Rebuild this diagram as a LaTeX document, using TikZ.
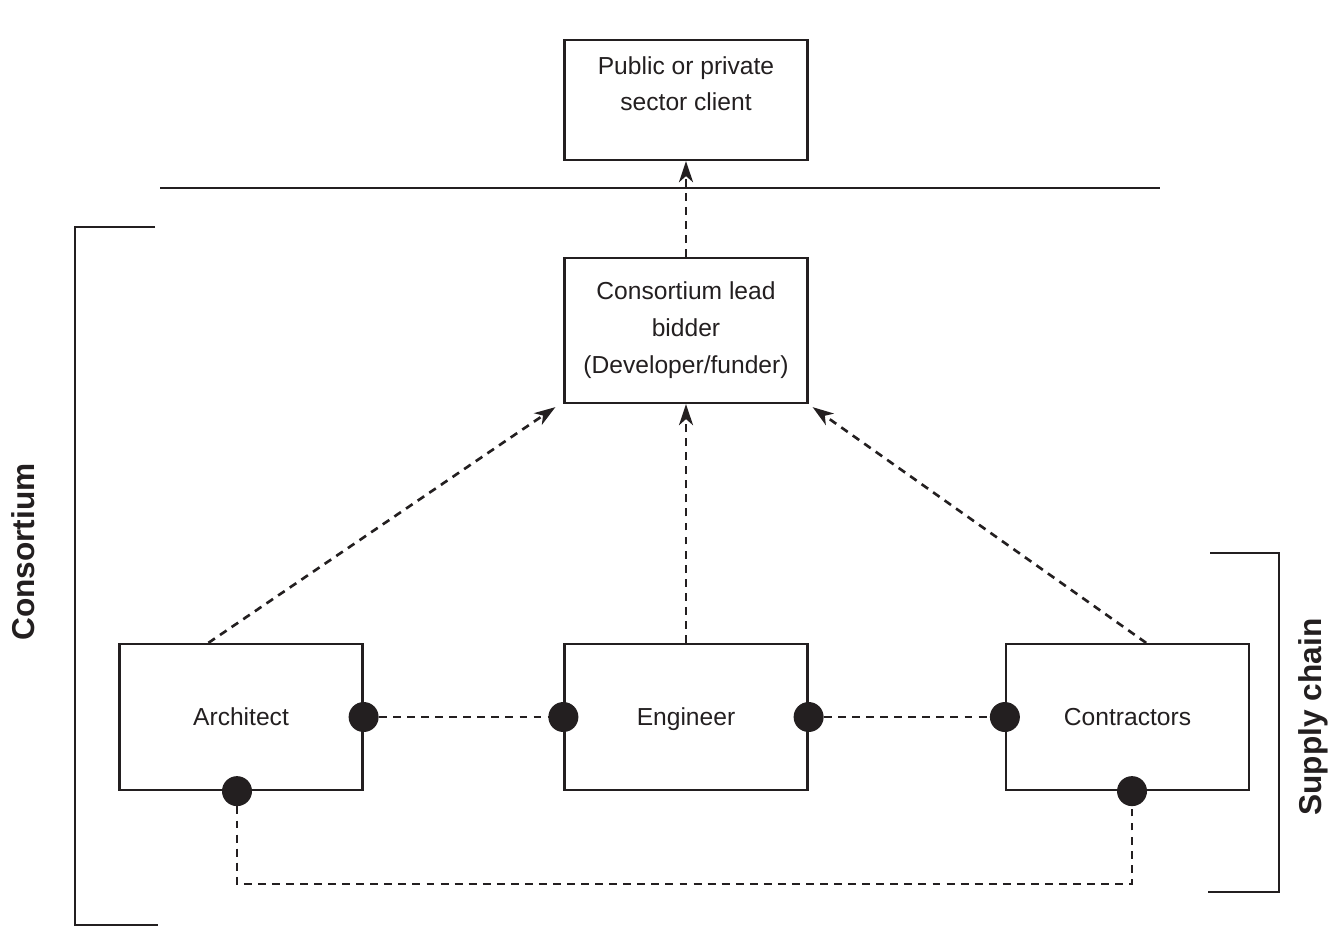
\documentclass[tikz,border=0pt]{standalone}
\usepackage{fontspec}
\setmainfont{Liberation Sans}
\usepackage{xcolor}
\usepackage{tikz}
\usetikzlibrary{arrows.meta,positioning}
\definecolor{ink}{HTML}{231F20}

\begin{document}
\begin{tikzpicture}[x=0.02cm,y=-0.02cm,
    box/.style={draw=ink, line width=1.3pt, minimum width=4.86cm, minimum height=2.92cm,
      align=center, text=ink, font=\fontsize{14}{21}\selectfont},
    role/.style={box, text height=10pt, text depth=0pt},
    txt/.style={inner sep=0pt, align=center, text=ink, font=\fontsize{14}{21}\selectfont},
    side/.style={text=ink, rotate=90, font=\fontsize{18}{22}\selectfont\bfseries},
    dot/.style={circle, fill=ink, inner sep=0pt, minimum size=0.6cm},
    link/.style={draw=ink, line width=1.5pt, dash pattern=on 4.5pt off 3.5pt},
    arr/.style={link, -{Stealth[length=12pt,width=8pt,inset=3.5pt]}},
    rule/.style={draw=ink, line width=1.3pt}]
  \useasboundingbox (0,0) rectangle (1341,927);

  \node[box, minimum height=2.4cm] (client) at (686,100) {};
  \node[txt, anchor=north] (clienttxt) at ([yshift=-0.34cm]client.north) {Public or private\\sector client};
  \node[box, minimum height=2.9cm] (lead) at (686,330.5) {Consortium lead\\bidder\\(Developer/funder)};
  \node[role] (architect) at (241,717) {Architect};
  \node[role] (engineer) at (686,717) {Engineer};
  \node[role] (contractors) at (1127.5,717) {Contractors};

  \draw[rule] (160,188) -- (1160,188);
  \draw[rule] (155,227) -- (75,227) -- (75,925) -- (158,925);
  \draw[rule] (1210,553) -- (1279,553) -- (1279,892) -- (1208,892);
  \node[side] (consortium) at (23,552) {Consortium};
  \node[side] (supply) at (1313,717) {Supply chain};

  \draw[arr] (lead) -- (client);
  \draw[arr] ([xshift=1.8cm]architect.north west) -- ([shift={(-8,3)}]lead.south west);
  \draw[arr] (engineer) -- (lead);
  \draw[arr] ([xshift=-2.08cm]contractors.north east) -- ([shift={(4,3)}]lead.south east);

  \node[dot] (ae) at (architect.east) {};
  \node[dot] (ew) at (engineer.west) {};
  \node[dot] (ee) at (engineer.east) {};
  \node[dot] (cw) at (contractors.west) {};
  \node[dot] (as) at ([xshift=-0.08cm]architect.south) {};
  \node[dot] (cs) at ([xshift=0.09cm]contractors.south) {};
  \coordinate (bend) at (0,884);

  \draw[link] (ae) -- (ew);
  \draw[link] (ee) -- (cw);
  \draw[link] (as) -- (as |- bend) -| (cs);
\end{tikzpicture}
\end{document}
